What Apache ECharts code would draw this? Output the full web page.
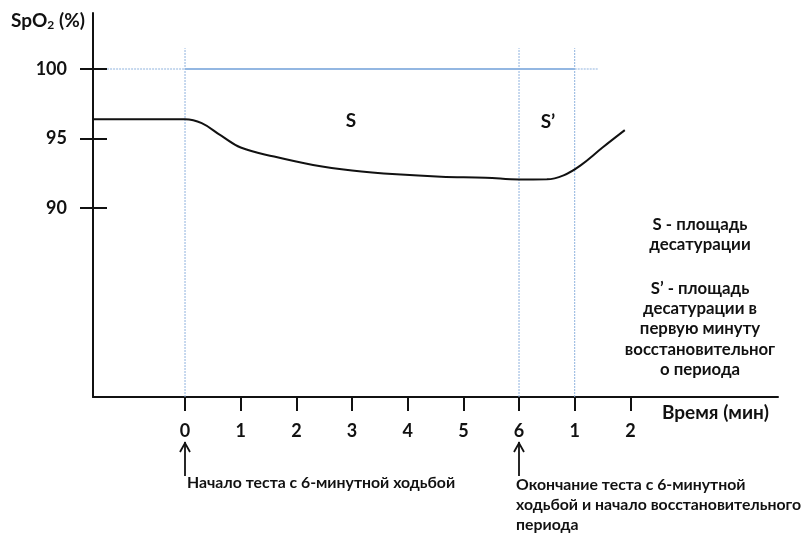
<!DOCTYPE html>
<html>
<head>
<meta charset="utf-8">
<script src="https://cdn.jsdelivr.net/npm/echarts@6/dist/echarts.min.js"></script>
<style>
  html, body { margin: 0; padding: 0; background: #ffffff; }
  #chart { width: 803px; height: 533px; }
</style>
</head>
<body>
<div id="chart"></div>
<script>
// Time in minutes: 0..6 is the walk test, 6..8 is the recovery period (labelled 1, 2)
const timePoints = [-1.65, 0, 0.3, 0.65, 1.0, 1.6, 2.3, 3.0, 3.8, 4.6, 5.4, 6.0, 6.5, 6.8, 7.1, 7.5, 7.9];
const spo2Values = [96.38, 96.38, 96.1, 95.2, 94.35, 93.7, 93.1, 92.7, 92.42, 92.25, 92.18, 92.05, 92.06, 92.35, 93.05, 94.35, 95.6];

const xTicks = [0, 1, 2, 3, 4, 5, 6, 7, 8];
const yTicks = [90, 95, 100];

// Reference lines: baseline 100 %, test start, test end, end of first recovery minute
const baselineValue = 100;
const markerTimes = [0, 6, 7];

const FONT = 'Lato';
const BLUE = '#6f9fd8';
const BLUE_LIGHT = '#8fb3de';

const xMin = -1.653, xMax = 10.652;
const yMin = 76.4, yMax = 104.03;

const chart = echarts.init(document.getElementById('chart'), null, { renderer: 'canvas' });

function refSeries(data, style) {
  return {
    type: 'line', data: data, symbol: 'none', silent: true, animation: false,
    lineStyle: style, z: 1
  };
}

const series = [];
// horizontal line at 100 %
series.push(refSeries([[-1.4, baselineValue], [0, baselineValue]], { color: BLUE_LIGHT, width: 1.2, type: [2, 1] }));
series.push(refSeries([[0, baselineValue], [7, baselineValue]], { color: BLUE, width: 1.6 }));
series.push(refSeries([[7, baselineValue], [7.42, baselineValue]], { color: BLUE_LIGHT, width: 1.2, type: [2, 1] }));
// vertical markers
markerTimes.forEach(function (t) {
  series.push(refSeries([[t, yMin], [t, 101.5]], { color: BLUE_LIGHT, width: 1, type: [2, 1] }));
});
// SpO2 curve
series.push({
  type: 'line',
  data: timePoints.map(function (t, i) { return [t, spo2Values[i]]; }),
  symbol: 'none', smooth: 0.4, animation: false,
  lineStyle: { color: '#111111', width: 2 }, z: 3
});

const axisText = { color: '#111111', fontFamily: FONT, fontWeight: 'bold', fontSize: 18 };

chart.setOption({
  backgroundColor: '#ffffff',
  animation: false,
  grid: { left: 93, right: 25, top: 13, bottom: 136 },
  xAxis: {
    type: 'value', min: xMin, max: xMax,
    splitLine: { show: false },
    axisLine: { show: true, onZero: false, lineStyle: { color: '#111111', width: 2 } },
    axisTick: { show: true, length: 14, customValues: xTicks, lineStyle: { color: '#111111', width: 2 } },
    axisLabel: Object.assign({
      customValues: xTicks, margin: 25,
      formatter: function (v) { return String(v > 6 ? v - 6 : v); }
    }, axisText)
  },
  yAxis: [{
    type: 'value', min: yMin, max: yMax,
    splitLine: { show: false },
    axisLine: { show: true, onZero: false, lineStyle: { color: '#111111', width: 2 } },
    axisTick: { show: true, length: 13, customValues: yTicks, lineStyle: { color: '#111111', width: 2 } },
    axisLabel: Object.assign({ customValues: yTicks, margin: 26 }, axisText)
  }, {
    type: 'value', min: yMin, max: yMax, position: 'left', offset: 0,
    splitLine: { show: false },
    axisLine: { show: false, onZero: false },
    axisTick: { show: true, inside: true, length: 14, customValues: yTicks, lineStyle: { color: '#111111', width: 2 } },
    axisLabel: { show: false }
  }],
  series: series
});

// Annotations placed through the chart's own coordinate system
function px(t, v) { return chart.convertToPixel({ gridIndex: 0 }, [t, v]); }

const bold = function (size) { return 'bold ' + size + 'px ' + FONT; };
const graphics = [];

// axis titles
graphics.push({
  type: 'text', left: 11, top: 11,
  style: {
    text: '{a|SpO}{b|2}{a| (%)}',
    rich: {
      a: { font: bold(19), fill: '#111111' },
      b: { font: bold(12), fill: '#111111', padding: [10, 0, 0, 0] }
    }
  }
});
graphics.push({
  type: 'text', x: 662, y: 413,
  style: { text: 'Время (мин)', font: bold(19), fill: '#111111', verticalAlign: 'middle', align: 'left' }
});

// area labels
const sPos = px(2.98, 96.3);
const s2Pos = px(6.52, 96.2);
graphics.push({ type: 'text', x: sPos[0], y: sPos[1], style: { text: 'S', font: bold(19), fill: '#111111', align: 'center', verticalAlign: 'middle' } });
graphics.push({ type: 'text', x: s2Pos[0], y: s2Pos[1], style: { text: 'S\u2019', font: bold(19), fill: '#111111', align: 'center', verticalAlign: 'middle' } });

// legend text on the right
const legendLines = [
  ['S - площадь', 225], ['десатурации', 245],
  ['S\u2019 - площадь', 289], ['десатурации в', 309], ['первую минуту', 329],
  ['восстановительног', 350], ['о периода', 370]
];
legendLines.forEach(function (l) {
  graphics.push({ type: 'text', x: 700, y: l[1], style: { text: l[0], font: bold(16.8), fill: '#111111', align: 'center', verticalAlign: 'middle' } });
});

// arrows under the time axis
[0, 6].forEach(function (t) {
  const x = Math.round(px(t, 90)[0]);
  graphics.push({ type: 'line', shape: { x1: x, y1: 442, x2: x, y2: 476 }, style: { stroke: '#111111', lineWidth: 1.8 } });
  graphics.push({ type: 'polyline', shape: { points: [[x - 5, 452], [x, 443], [x + 5, 452]] }, style: { stroke: '#111111', lineWidth: 1.8, fill: null } });
});

const startX = px(0, 90)[0];
const endX = px(6, 90)[0];
graphics.push({ type: 'text', x: startX + 2, y: 483, style: { text: 'Начало теста с 6-минутной ходьбой', font: bold(15.8), fill: '#111111', verticalAlign: 'middle' } });
[['Окончание теста с 6-минутной', 485], ['ходьбой и начало восстановительного', 505], ['периода', 525]].forEach(function (l) {
  graphics.push({ type: 'text', x: endX - 3, y: l[1], style: { text: l[0], font: bold(15.8), fill: '#111111', verticalAlign: 'middle' } });
});

chart.setOption({ graphic: graphics });
</script>
</body>
</html>
